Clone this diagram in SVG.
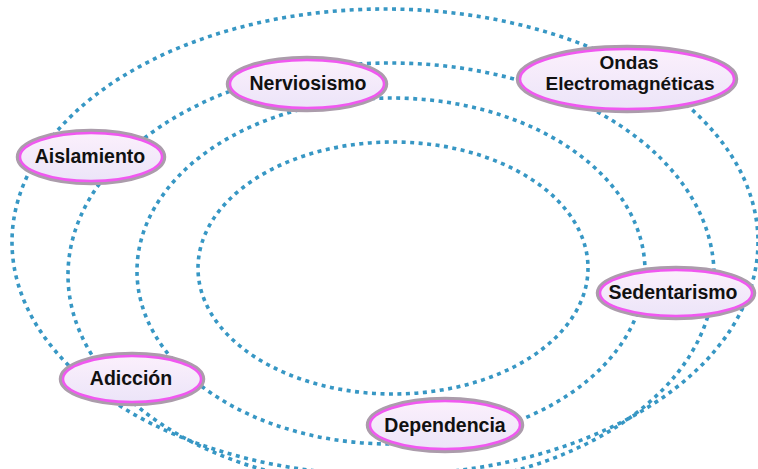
<svg xmlns="http://www.w3.org/2000/svg" width="758" height="469" viewBox="0 0 758 469">
<defs>
<linearGradient id="nodeFill" x1="0" y1="0" x2="0" y2="1">
<stop offset="0" stop-color="#fcf0fc"/>
<stop offset="1" stop-color="#ebe4f8"/>
</linearGradient>
<style>
.ring{fill:none;stroke:#3797c4;stroke-width:3.6;stroke-dasharray:4 4.5}
.outer{fill:url(#nodeFill);stroke:#ab9cab;stroke-width:4.5}
.inner{fill:none;stroke:#f058f0;stroke-width:2.5}
.lbl{font-family:"Liberation Sans",Arial,sans-serif;font-weight:bold;font-size:19.5px;fill:#111;text-anchor:middle}
.lbl2{font-size:19px}
</style>
</defs>
<rect width="758" height="469" fill="#ffffff"/>
<g id="connectors">
<ellipse class="ring" cx="385" cy="242" rx="373" ry="233"/>
<ellipse class="ring" cx="391" cy="275" rx="323" ry="212"/>
<ellipse class="ring" cx="391" cy="271" rx="254" ry="173"/>
<ellipse class="ring" cx="393" cy="268" rx="195" ry="126"/>
</g>
<g id="nerviosismo">
<ellipse class="outer" cx="307" cy="84" rx="79" ry="26"/>
<ellipse class="inner" cx="307" cy="84" rx="77" ry="24"/>
<text class="lbl" x="308" y="90">Nerviosismo</text>
</g>
<g id="ondas">
<ellipse class="outer" cx="627" cy="79" rx="109" ry="32"/>
<ellipse class="inner" cx="627" cy="79" rx="107" ry="30"/>
<text class="lbl lbl2" x="629" y="68.5">Ondas</text>
<text class="lbl lbl2" x="630" y="90">Electromagnéticas</text>
</g>
<g id="aislamiento">
<ellipse class="outer" cx="91" cy="157" rx="73" ry="26"/>
<ellipse class="inner" cx="91" cy="157" rx="71" ry="24"/>
<text class="lbl" x="90" y="163">Aislamiento</text>
</g>
<g id="sedentarismo">
<ellipse class="outer" cx="676" cy="293" rx="78" ry="25"/>
<ellipse class="inner" cx="676" cy="293" rx="76" ry="23"/>
<text class="lbl" x="673" y="299">Sedentarismo</text>
</g>
<g id="adiccion">
<ellipse class="outer" cx="132" cy="379" rx="71" ry="25"/>
<ellipse class="inner" cx="132" cy="379" rx="69" ry="23"/>
<text class="lbl" x="131" y="385">Adicción</text>
</g>
<g id="dependencia">
<ellipse class="outer" cx="445" cy="425" rx="77" ry="26"/>
<ellipse class="inner" cx="445" cy="425" rx="75" ry="24"/>
<text class="lbl" x="445" y="432">Dependencia</text>
</g>
</svg>
